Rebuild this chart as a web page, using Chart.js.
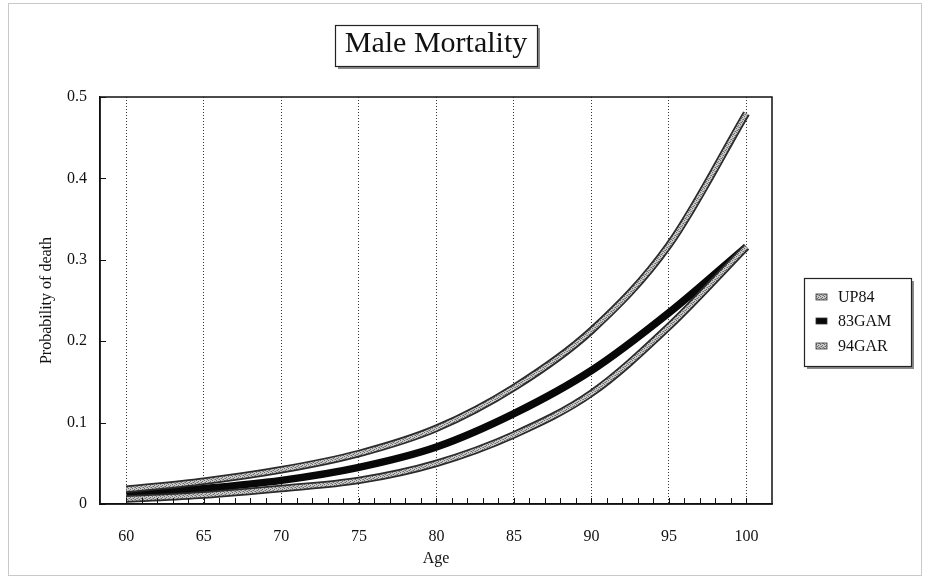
<!DOCTYPE html>
<html>
<head>
<meta charset="utf-8">
<script src="https://cdn.jsdelivr.net/npm/chart.js@4.4.1/dist/chart.umd.min.js"></script>
<style>
  html, body { margin: 0; padding: 0; background: #ffffff; }
  #wrap { width: 925px; height: 576px; position: relative; }
</style>
</head>
<body>
<div id="wrap"><canvas id="c" width="925" height="576"></canvas></div>
<script>
// ---- data ----
const ages   = [60, 65, 70, 75, 80, 85, 90, 95, 100];
const up84   = [0.018, 0.028, 0.042, 0.062, 0.093, 0.143, 0.213, 0.318, 0.480];
const gam83  = [0.012, 0.019, 0.029, 0.045, 0.070, 0.111, 0.164, 0.235, 0.316];
const gar94  = [0.006, 0.011, 0.019, 0.029, 0.050, 0.085, 0.136, 0.218, 0.316];
const seriesNames = ['UP84', '83GAM', '94GAR'];
const xTicks = [60, 65, 70, 75, 80, 85, 90, 95, 100];
const yTicks = [0, 0.1, 0.2, 0.3, 0.4, 0.5];

const FONT = '"Liberation Serif", "Times New Roman", serif';

// grey speckled texture used for the grey curves
function makePattern() {
  const c = document.createElement('canvas');
  c.width = 4; c.height = 4;
  const g = c.getContext('2d');
  g.fillStyle = '#c8c8c8'; g.fillRect(0, 0, 4, 4);
  g.fillStyle = '#6a6a6a';
  g.fillRect(0, 0, 1, 1); g.fillRect(2, 1, 1, 1); g.fillRect(1, 2, 1, 1); g.fillRect(3, 3, 1, 1);
  g.fillStyle = '#999999';
  g.fillRect(2, 3, 1, 1); g.fillRect(0, 2, 1, 1);
  return document.getElementById('c').getContext('2d').createPattern(c, 'repeat');
}
const greyPat = makePattern();

const pts = arr => ages.map((a, i) => ({ x: a, y: arr[i] }));

const lineBase = { pointRadius: 0, fill: false, cubicInterpolationMode: 'monotone' };

const datasets = [
  Object.assign({ label: seriesNames[0], data: pts(up84),  borderColor: greyPat, borderWidth: 4, order: 1 }, lineBase),
  Object.assign({ label: seriesNames[0] + '_o', data: pts(up84), borderColor: '#2b2b2b', borderWidth: 7.5, order: 2 }, lineBase),
  Object.assign({ label: seriesNames[1], data: pts(gam83), borderColor: '#080808', borderWidth: 7.5, order: 3 }, lineBase),
  Object.assign({ label: seriesNames[2], data: pts(gar94), borderColor: greyPat, borderWidth: 4, order: 1 }, lineBase),
  Object.assign({ label: seriesNames[2] + '_o', data: pts(gar94), borderColor: '#2b2b2b', borderWidth: 7.5, order: 2 }, lineBase)
];

function shadowBox(ctx, x, y, w, h) {
  ctx.save();
  ctx.fillStyle = '#8a8a8a';
  ctx.fillRect(x + 3, y + h, w, 3);
  ctx.fillRect(x + w, y + 3, 3, h);
  ctx.fillStyle = '#ffffff';
  ctx.fillRect(x, y, w, h);
  ctx.strokeStyle = '#222';
  ctx.lineWidth = 1.2;
  ctx.strokeRect(x + 0.5, y + 0.5, w, h);
  ctx.restore();
}

const decor = {
  id: 'decor',
  beforeDraw(chart) {
    const ctx = chart.ctx;
    ctx.save();
    ctx.fillStyle = '#ffffff';
    ctx.fillRect(0, 0, chart.width, chart.height);
    ctx.strokeStyle = '#c9c9c9';
    ctx.lineWidth = 1;
    ctx.strokeRect(8.5, 3.5, chart.width - 12, chart.height - 4);
    const tb = chart.titleBlock;
    ctx.font = '30px ' + FONT;
    const tw = ctx.measureText('Male Mortality').width;
    const cx = (tb.left + tb.right) / 2;
    const cy = tb.top + 26.5 + 18;
    shadowBox(ctx, Math.round(cx - tw / 2 - 10), Math.round(cy - 20), Math.round(tw + 20), 41);
    ctx.restore();
  },
  afterDraw(chart) {
    const ctx = chart.ctx;
    const ca = chart.chartArea;
    const xs = chart.scales.x, ys = chart.scales.y;
    ctx.save();
    ctx.strokeStyle = '#111';
    ctx.lineWidth = 1.5;
    ctx.strokeRect(ca.left, ca.top, ca.right - ca.left, ca.bottom - ca.top);
    ctx.lineWidth = 1;
    ctx.beginPath();
    yTicks.forEach(v => {
      const y = Math.round(ys.getPixelForValue(v)) + 0.5;
      ctx.moveTo(ca.left, y); ctx.lineTo(ca.left + 6, y);
    });
    for (let a = xTicks[0]; a <= xTicks[xTicks.length - 1]; a++) {
      const x = Math.round(xs.getPixelForValue(a)) + 0.5;
      ctx.moveTo(x, ca.bottom); ctx.lineTo(x, ca.bottom - 6);
    }
    ctx.stroke();

    // legend
    const lx = 804, ly = 278, lw = 107, lh = 88;
    shadowBox(ctx, lx, ly, lw, lh);
    const rows = [
      { name: seriesNames[0], fill: greyPat, y: 297 },
      { name: seriesNames[1], fill: '#080808', y: 321 },
      { name: seriesNames[2], fill: greyPat, y: 346 }
    ];
    ctx.font = '16px ' + FONT;
    ctx.textBaseline = 'middle';
    ctx.textAlign = 'left';
    rows.forEach(r => {
      ctx.fillStyle = r.fill;
      ctx.fillRect(816, r.y - 3, 11, 6);
      ctx.strokeStyle = '#333';
      ctx.lineWidth = 0.8;
      ctx.strokeRect(816, r.y - 3, 11, 6);
      ctx.fillStyle = '#111';
      ctx.fillText(r.name, 838, r.y + 1);
    });
    ctx.restore();
  }
};

new Chart(document.getElementById('c'), {
  type: 'line',
  data: { datasets },
  options: {
    responsive: false,
    animation: false,
    devicePixelRatio: 1,
    layout: { padding: { left: 37, right: 153, top: 0, bottom: 0 } },
    plugins: {
      legend: { display: false },
      tooltip: { enabled: false },
      title: {
        display: true,
        text: 'Male Mortality',
        fullSize: false,
        color: '#111',
        font: { family: FONT, size: 30, weight: 'normal' },
        padding: { top: 26.5, bottom: 34.5 }
      }
    },
    scales: {
      x: {
        type: 'linear',
        min: 58.3,
        max: 101.65,
        afterBuildTicks: s => { s.ticks = xTicks.map(v => ({ value: v })); },
        afterFit: s => { s.height = 72; },
        grid: { display: true, drawTicks: false, color: '#333', lineWidth: 1 },
        border: { display: true, color: '#111', width: 1.5, dash: [1, 2] },
        ticks: { color: '#111', font: { family: FONT, size: 16 }, padding: 23, autoSkip: false, maxRotation: 0,
                 callback: v => String(v) },
        title: { display: true, text: 'Age', color: '#111', font: { family: FONT, size: 16 }, padding: { top: 0, bottom: 8 } }
      },
      y: {
        type: 'linear',
        min: 0,
        max: 0.5,
        afterBuildTicks: s => { s.ticks = yTicks.map(v => ({ value: v })); },
        afterFit: s => { s.width = 63; },
        grid: { display: false, drawTicks: false },
        border: { display: true, color: '#111', width: 1.5 },
        ticks: { color: '#111', font: { family: FONT, size: 16 }, padding: 13,
                 callback: v => (v === 0 ? '0' : Number(v).toFixed(1)) },
        title: { display: true, text: 'Probability of death', color: '#111', font: { family: FONT, size: 16 }, padding: 0 }
      }
    }
  },
  plugins: [decor]
});
</script>
</body>
</html>
